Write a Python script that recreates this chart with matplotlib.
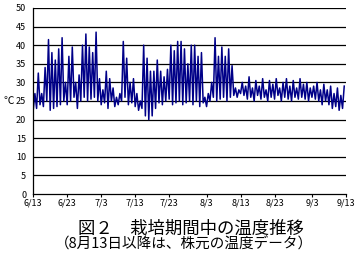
import matplotlib.pyplot as plt
import numpy as np

plt.rcParams['font.family'] = ['Noto Sans CJK JP', 'DejaVu Sans']

# daily highs / lows (deg C), day 0 = 6/13
day_high = [27, 32.5, 27, 34, 41.5, 38, 36, 39, 42, 30,
            37, 39.5, 30, 32, 40, 43, 39.5, 38, 43.5, 31,
            28, 33, 31, 28.5, 26, 27, 41, 36.5, 30, 31,
            27, 25, 40, 36.5, 33, 33, 36, 33, 31.5, 33.5,
            40, 38.5, 41, 41, 39, 35, 40, 40, 37, 38,
            26, 27, 30, 42, 37, 39.5, 37, 39, 34.5, 28.5,
            28, 30, 29, 31.5, 28.5, 30.5, 29, 31, 28, 30.5,
            29.5, 31, 28.5, 30, 31, 29, 30.5, 28.5, 31, 29.5,
            30, 28.5, 29, 30, 28, 29.5, 28, 29, 27, 28.5,
            26.5, 29]
day_low = [22.5, 23, 24, 23.5, 25, 22.5, 23, 23.5, 24, 25,
           24, 25, 26, 23, 25, 26, 25, 25.5, 26, 25,
           24, 24.5, 23, 25, 23.5, 24, 25, 26, 24, 24.5,
           23.5, 22.5, 23, 21, 20, 21, 23, 24.5, 24, 25,
           25.5, 24, 24.5, 25, 24, 24.5, 25, 24, 25, 23.5,
           24.5, 23.5, 25, 26, 25, 25.5, 26, 25, 26, 26.5,
           26, 27, 26.5, 25.5, 26, 25, 26.5, 25.5, 26, 25,
           26, 25.5, 26.5, 25, 26, 25.5, 25, 26, 25.5, 26,
           25.5, 25, 26, 25.5, 25, 24, 25, 24, 23, 23.5,
           22.5, 23]

tick_days = [0, 10, 20, 30, 40, 51, 61, 71, 82, 92]
tick_labels = ['6/13', '6/23', '7/3', '7/13', '7/23', '8/3', '8/13', '8/23', '9/3', '9/13']

days = np.arange(len(day_high))
t = np.ravel(np.column_stack([days, days + 0.5]))
temp = np.ravel(np.column_stack([day_low, day_high]))

fig = plt.figure(figsize=(3.57, 2.56), dpi=100)
ax = fig.add_axes([0.093, 0.242, 0.876, 0.727])

for yv in range(5, 51, 5):
    ax.axhline(yv, color='black', linewidth=0.9, zorder=1)
ax.plot(t, temp, color='#000088', linewidth=1.1, zorder=2)

ax.set_xlim(0, 92)
ax.set_ylim(0, 50)
ax.set_yticks(range(0, 51, 5))
ax.set_xticks(tick_days)
ax.set_xticklabels(tick_labels)
ax.tick_params(axis='y', length=0, pad=5, labelsize=6.5)
ax.tick_params(axis='x', length=2.5, width=0.8, pad=1, labelsize=6.5)
for s in ['top', 'right']:
    ax.spines[s].set_visible(False)
for s in ['left', 'bottom']:
    ax.spines[s].set_linewidth(0.9)

fig.text(0.025, 0.605, '℃', fontsize=7.5, ha='center', va='center')
fig.text(0.535, 0.105, '図２　栽培期間中の温度推移', fontsize=12.5, ha='center', va='center')
fig.text(0.515, 0.045, '（8月13日以降は、株元の温度データ）', fontsize=10.5, ha='center', va='center')

fig.savefig('out.png', dpi=100)
